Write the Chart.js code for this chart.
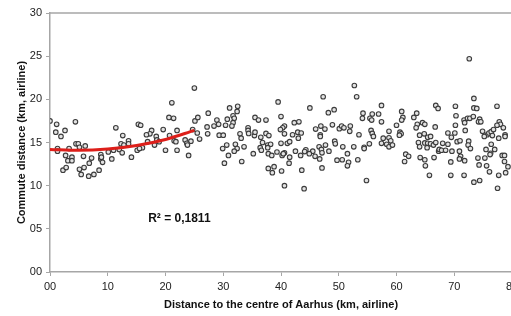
<!DOCTYPE html>
<html>
<head>
<meta charset="utf-8">
<script src="https://cdn.jsdelivr.net/npm/chart.js@4/dist/chart.umd.min.js"></script>
<style>
  html, body { margin: 0; padding: 0; background: #fff; overflow: hidden; }
  #wrap { width: 532px; height: 316px; }
</style>
</head>
<body>
<div id="wrap"><canvas id="chart" width="532" height="316"></canvas></div>
<script>
// distance to centre of Aarhus (km) and commute distance (km)
const distanceKm = [
  0, 1.15, 1.0, 1.9, 2.6, 4.4, 1.3, 1.3, 3.3, 4.5, 4.9, 5.1, 6.1, 2.7, 3.8, 3.1, 3.8, 5.8, 7.2, 6.8, 2.25, 2.8, 5.1, 5.9, 5.4, 6.7, 7.6, 8.5, 8.8, 8.8, 9.1, 8.9, 10.1, 10.7, 11.4, 12.6, 12.3, 12.8, 13.6, 12.0, 12.5, 11.0,
  25.0, 21.1, 20.6, 21.4, 15.3, 15.7, 25.1, 25.6, 27.4, 27.2, 27.3, 17.6, 17.3, 16.7, 19.6, 22.0, 24.7, 25.5, 25.9, 18.4, 18.5, 20.7, 21.5, 21.8, 23.4, 24.4, 23.7, 23.8, 16.9, 18.1, 18.9, 13.6, 15.1, 16.0, 15.5, 20.0, 22.0, 14.1, 24.0,
  39.5, 40.0, 40.6, 40.3, 39.9, 40.6, 28.9, 28.4, 29.2, 31.1, 32.5, 32.4, 31.7, 31.9, 30.7, 31.7, 30.4, 31.5, 29.3, 30.0, 32.9, 33.1, 34.3, 34.3, 34.4, 35.4, 35.5, 35.5, 36.1, 37.4, 37.4, 37.9, 36.5, 36.8, 37.7, 38.2, 37.7, 36.4, 36.6, 37.8, 38.4, 39.3, 40.0, 41.1, 40.6, 40.2, 40.4, 41.4, 38.8, 37.8, 38.5, 40.1, 40.6, 35.2, 33.6, 32.1, 32.4, 31.9, 30.6, 29.9, 30.9, 30.2, 33.2,
  52.7, 53.1, 47.3, 45.0, 48.2, 49.2, 54.2, 54.1, 42.3, 43.1, 42.0, 42.9, 43.5, 43.0, 41.5, 46.0, 46.9, 47.6, 46.8, 46.8, 48.9, 50.1, 50.5, 50.9, 52.0, 51.9, 53.5, 49.3, 49.4, 47.7, 48.3, 46.6, 47.0, 47.1, 45.5, 44.3, 44.1, 44.9, 45.9, 46.7, 43.4, 42.5, 41.5, 43.6, 47.1, 44.0, 50.7, 51.5, 52.6, 53.3, 49.7, 50.6, 51.7, 51.5, 54.4, 54.4, 54.8,
  57.4, 56.9, 55.8, 55.4, 55.7, 57.4, 60.9, 61.1, 60.9, 63.0, 63.5, 63.6, 63.4, 64.5, 64.9, 66.8, 67.2, 66.7, 60.0, 55.6, 55.8, 56.0, 58.7, 60.6, 60.8, 60.5, 55.3, 57.4, 57.7, 58.7, 59.0, 58.3, 58.7, 59.3, 64.0, 64.8, 65.4, 65.9, 63.8, 64.0, 64.9, 65.4, 65.9, 66.4, 66.8, 65.3, 67.3, 61.6, 62.1, 61.4, 64.1, 64.9, 66.5, 65.0, 65.7,
  72.6, 73.4, 73.4, 73.9, 77.4, 70.2, 70.3, 71.7, 72.3, 72.7, 73.3, 74.4, 74.2, 74.6, 71.8, 70.2, 77.8, 78.0, 77.4, 78.5, 71.9, 68.9, 70.1, 74.9, 75.7, 76.0, 76.4, 76.8, 76.6, 75.2, 78.8, 78.8, 77.7, 69.5, 68.0, 68.9, 70.5, 71.0, 72.5, 72.4, 72.8, 67.4, 67.8, 68.5, 69.6, 70.9, 71.1, 70.9, 71.8, 75.5, 76.4, 77.0, 76.3, 76.2, 75.3, 74.1, 74.3, 75.6, 78.3, 78.7, 78.7, 79.3, 78.9, 77.7, 76.1, 73.4, 74.4, 77.5, 69.4, 69.4, 71.7
];
const commuteKm = [
  17.5, 17.1, 16.2, 15.7, 16.4, 17.4, 14.3, 14.0, 14.3, 14.85, 14.85, 14.45, 14.6, 13.5, 13.3, 12.9, 12.9, 13.4, 13.2, 12.6, 11.8, 12.1, 11.9, 12.1, 11.3, 11.1, 11.3, 11.8, 13.6, 13.1, 12.7, 13.3, 13.9, 13.1, 16.7, 15.8, 14.85, 14.7, 15.2, 14.2, 13.8, 14.1,
  21.3, 19.6, 17.9, 17.8, 17.1, 17.0, 17.5, 17.9, 18.4, 16.8, 16.0, 16.4, 16.0, 15.9, 16.5, 16.4, 16.5, 16.1, 15.4, 15.7, 15.3, 15.8, 15.2, 15.1, 15.3, 15.15, 14.9, 14.7, 15.1, 14.7, 15.1, 14.85, 14.1, 14.4, 14.3, 14.1, 14.1, 13.3, 13.5,
  19.7, 18.0, 16.9, 16.7, 16.5, 16.0, 17.6, 16.9, 17.1, 19.0, 19.2, 18.6, 18.1, 17.8, 17.7, 17.3, 17.0, 16.9, 15.85, 15.85, 16.0, 15.5, 16.7, 16.4, 16.05, 15.8, 16.2, 17.9, 17.6, 17.6, 16.05, 15.8, 15.6, 15.0, 14.7, 14.8, 14.4, 14.4, 14.1, 13.7, 13.5, 13.9, 14.9, 14.9, 13.8, 13.5, 13.7, 12.6, 12.2, 12.0, 11.5, 11.7, 10.0, 13.7, 14.5, 14.8, 14.3, 14.0, 14.7, 14.3, 13.5, 12.6, 12.8,
  21.6, 20.3, 20.3, 19.0, 18.45, 18.8, 18.4, 17.8, 17.3, 17.4, 15.9, 16.2, 16.1, 15.5, 15.1, 16.55, 16.9, 16.55, 15.9, 15.7, 17.05, 16.6, 16.9, 16.7, 16.9, 16.3, 15.9, 15.15, 14.85, 14.7, 14.0, 14.5, 14.2, 13.8, 14.0, 14.15, 13.95, 13.7, 13.4, 13.1, 13.5, 14.0, 13.3, 11.8, 12.05, 9.65, 14.5, 13.7, 14.5, 13.0, 12.95, 13.0, 12.7, 12.3, 14.45, 14.3, 10.6,
  19.3, 18.3, 18.3, 17.8, 17.6, 17.4, 18.6, 17.9, 17.6, 17.9, 18.4, 17.1, 16.7, 17.3, 17.1, 19.3, 18.95, 16.8, 17.0, 16.4, 16.05, 15.7, 16.3, 16.2, 16.0, 15.85, 14.85, 14.9, 15.5, 15.55, 15.2, 14.8, 14.5, 14.7, 15.85, 16.0, 15.6, 15.7, 15.0, 14.5, 14.95, 14.9, 14.85, 14.7, 15.0, 14.4, 14.0, 13.65, 13.4, 12.8, 13.25, 13.0, 13.25, 12.3, 11.2,
  24.7, 20.1, 19.0, 18.95, 19.2, 19.2, 18.1, 17.6, 17.8, 17.8, 18.0, 17.7, 17.4, 17.4, 17.3, 17.0, 17.4, 17.1, 17.0, 16.7, 16.4, 16.1, 16.1, 16.3, 15.9, 16.1, 16.25, 16.5, 15.8, 15.7, 15.9, 15.7, 15.5, 15.6, 14.9, 14.8, 15.1, 15.2, 15.15, 14.7, 14.3, 14.2, 14.1, 14.1, 14.0, 14.0, 13.4, 13.1, 12.9, 14.2, 14.8, 14.2, 13.75, 13.6, 13.2, 13.2, 12.4, 12.3, 13.5, 13.5, 12.8, 12.2, 11.5, 11.2, 11.6, 10.4, 10.6, 9.7, 12.75, 11.2, 11.2
];

// trend line (red)
const trendX = [0, 5, 10, 15, 20, 25];
const trendY = [14.2, 14.1, 14.25, 14.65, 15.35, 16.4];

const xTickLabels = ["00", "10", "20", "30", "40", "50", "60", "70", "80"];
const yTickLabels = ["00", "05", "10", "15", "20", "25", "30"];
const r2Text = "R² = 0,1811";
const r2Pos = { x: 17, y: 6.2 };

const points = distanceKm.map((x, i) => ({ x, y: commuteKm[i] }));
const trend = trendX.map((x, i) => ({ x, y: trendY[i] }));

const axisGray = "#a6a6a6";
const tickFont = { family: "Liberation Sans, Arial, sans-serif", size: 11 };
const titleFont = { family: "Liberation Sans, Arial, sans-serif", size: 11, weight: "bold" };

const extras = {
  id: "extras",
  afterDraw(chart) {
    const { ctx, chartArea, scales } = chart;
    ctx.save();
    // top border of the plot box
    ctx.strokeStyle = axisGray;
    ctx.lineWidth = 1.5;
    ctx.beginPath();
    ctx.moveTo(chartArea.left, chartArea.top);
    ctx.lineTo(chartArea.right, chartArea.top);
    ctx.stroke();
    // R² label
    ctx.fillStyle = "#111";
    ctx.font = "bold 12px Liberation Sans, Arial, sans-serif";
    ctx.textBaseline = "middle";
    ctx.fillText(r2Text, scales.x.getPixelForValue(r2Pos.x), scales.y.getPixelForValue(r2Pos.y));
    ctx.restore();
  }
};

new Chart(document.getElementById("chart"), {
  type: "scatter",
  data: {
    datasets: [
      {
        label: "Trend",
        type: "line",
        data: trend,
        borderColor: "#dd1f1a",
        borderWidth: 3,
        pointRadius: 0,
        fill: false,
        cubicInterpolationMode: "monotone"
      },
      {
        label: "Commute",
        data: points,
        pointRadius: 2.3,
        pointBorderWidth: 1.1,
        borderColor: "#3c3c3c",
        backgroundColor: "#e2e2e2"
      }
    ]
  },
  options: {
    responsive: false,
    animation: false,
    devicePixelRatio: 1,
    layout: { padding: { top: 13, right: 20, left: 0, bottom: 0 } },
    plugins: { legend: { display: false }, tooltip: { enabled: false } },
    scales: {
      x: {
        type: "linear",
        min: 0,
        max: 80,
        afterFit: s => { s.height = 44; },
        afterBuildTicks: s => { s.ticks = xTickLabels.map(t => ({ value: Number(t) })); },
        ticks: {
          color: "#222",
          font: tickFont,
          padding: 4,
          maxRotation: 0,
          callback: (v, i) => xTickLabels[i]
        },
        grid: { drawOnChartArea: false, tickLength: 4, color: axisGray },
        border: { color: axisGray, width: 1.5 },
        title: {
          display: true,
          text: "Distance to the centre of Aarhus (km, airline)",
          color: "#111",
          font: titleFont,
          padding: { top: 0, bottom: 4 }
        }
      },
      y: {
        min: 0,
        max: 30,
        afterFit: s => { s.width = 50; },
        afterBuildTicks: s => { s.ticks = yTickLabels.map(t => ({ value: Number(t) })); },
        ticks: {
          color: "#222",
          font: tickFont,
          padding: 4,
          callback: (v, i) => yTickLabels[i]
        },
        grid: { drawOnChartArea: false, tickLength: 4, color: axisGray },
        border: { color: axisGray, width: 1.5 },
        title: {
          display: true,
          text: "Commute distance (km, airline)",
          color: "#111",
          font: titleFont,
          padding: { top: 15, bottom: 0 }
        }
      }
    }
  },
  plugins: [extras]
});
</script>
</body>
</html>
